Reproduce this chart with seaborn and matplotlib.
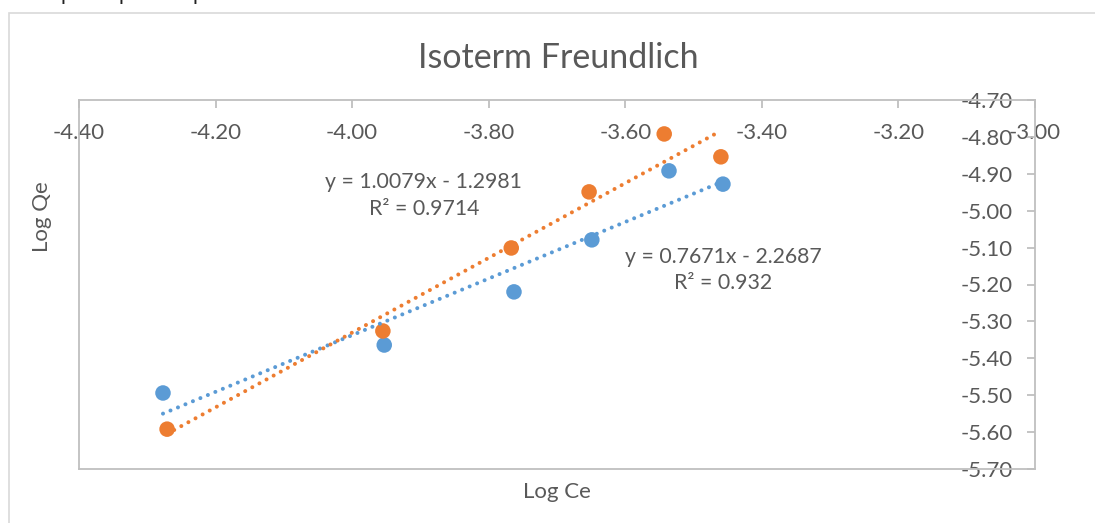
import numpy as np
import pandas as pd
import seaborn as sns
import matplotlib
matplotlib.use("Agg")
import matplotlib.pyplot as plt
from matplotlib.patches import Rectangle

# data
blue_x = [-4.277, -3.953, -3.763, -3.649, -3.536, -3.457]
blue_y = [-5.494, -5.364, -5.220, -5.079, -4.892, -4.928]
orange_x = [-4.271, -3.955, -3.767, -3.653, -3.543, -3.460]
orange_y = [-5.592, -5.326, -5.101, -4.949, -4.792, -4.854]

blue_eq = "y = 0.7671x - 2.2687\nR² = 0.932"
orange_eq = "y = 1.0079x - 1.2981\nR² = 0.9714"

x_ticks = [-4.40, -4.20, -4.00, -3.80, -3.60, -3.40, -3.20, -3.00]
y_ticks = [-4.70, -4.80, -4.90, -5.00, -5.10, -5.20, -5.30, -5.40, -5.50, -5.60, -5.70]

BLUE = "#5B9BD5"
ORANGE = "#ED7D31"
TXT = "#595959"
GRID = "#BFBFBF"

sns.set_style("white")
plt.rcParams['font.family'] = ['Lato', 'DejaVu Sans']

W, H = 1095, 523
fig = plt.figure(figsize=(W / 100, H / 100), dpi=100)
ax = fig.add_axes([79 / W, 1 - 469 / H, (1035 - 79) / W, (469 - 100) / H])

# outer chart frame (runs past the picture on right/bottom)
fig.patches.append(Rectangle((9 / W, -0.1), 1.2, 1.1 - 13 / H,
                             transform=fig.transFigure, fill=False,
                             edgecolor="#D9D9D9", linewidth=1.2, zorder=0))

# cut-off text descenders at the very top
for xp in [60, 119, 193]:
    fig.text(xp / W, 1.0, "p", fontsize=15, color="#222222", ha="left", va="baseline")

df = pd.DataFrame({
    "x": blue_x + orange_x,
    "y": blue_y + orange_y,
    "s": ["blue"] * len(blue_x) + ["orange"] * len(orange_x),
})

sns.scatterplot(data=df, x="x", y="y", hue="s", palette={"blue": BLUE, "orange": ORANGE},
                s=125, edgecolor="none", legend=False, ax=ax, zorder=2)

for xs, ys, c in [(blue_x, blue_y, BLUE), (orange_x, orange_y, ORANGE)]:
    m, b = np.polyfit(xs, ys, 1)
    xx = np.array([min(xs), max(xs)])
    ax.plot(xx, m * xx + b, color=c, lw=2.9, linestyle=(0, (0.01, 2)),
            dash_capstyle="round", zorder=3)

ax.text(-3.895, -4.959, orange_eq, ha="center", va="center", fontsize=15.3,
        color=TXT, linespacing=1.4)
ax.text(-3.457, -5.160, blue_eq, ha="center", va="center", fontsize=15.3,
        color=TXT, linespacing=1.4)

ax.set_xlim(-4.40, -3.00)
ax.set_ylim(-5.70, -4.70)
ax.set_xticks(x_ticks)
ax.set_xticklabels([f"{v:.2f}" for v in x_ticks])
ax.set_yticks(y_ticks)
ax.set_yticklabels([f"{v:.2f}" for v in y_ticks])

for sp in ax.spines.values():
    sp.set_color(GRID)
    sp.set_linewidth(1.3)

ax.tick_params(axis="x", bottom=False, top=True, labelbottom=False, labeltop=True,
               direction="in", length=5.5, width=1.3, color=GRID,
               labelsize=16, labelcolor=TXT, pad=-24)
for lab in ax.get_xticklabels():
    lab.set_verticalalignment("center")
ax.tick_params(axis="y", left=False, right=True, labelleft=False, labelright=True,
               direction="in", length=5.5, width=1.3, color=GRID,
               labelsize=16, labelcolor=TXT, pad=-16)
for lab in ax.get_yticklabels():
    lab.set_horizontalalignment("right")

ax.set_xlabel("")
ax.set_ylabel("")
fig.text(557 / W, 1 - 492 / H, "Log Ce", ha="center", va="center", fontsize=16, color=TXT)
fig.text(42 / W, 1 - 217 / H, "Log Qe", ha="center", va="center", rotation=90,
         fontsize=16, color=TXT)
fig.text(558 / W, 1 - 58 / H, "Isoterm Freundlich", ha="center", va="center",
         fontsize=24.5, color=TXT)

fig.savefig("out.png", dpi=100)
